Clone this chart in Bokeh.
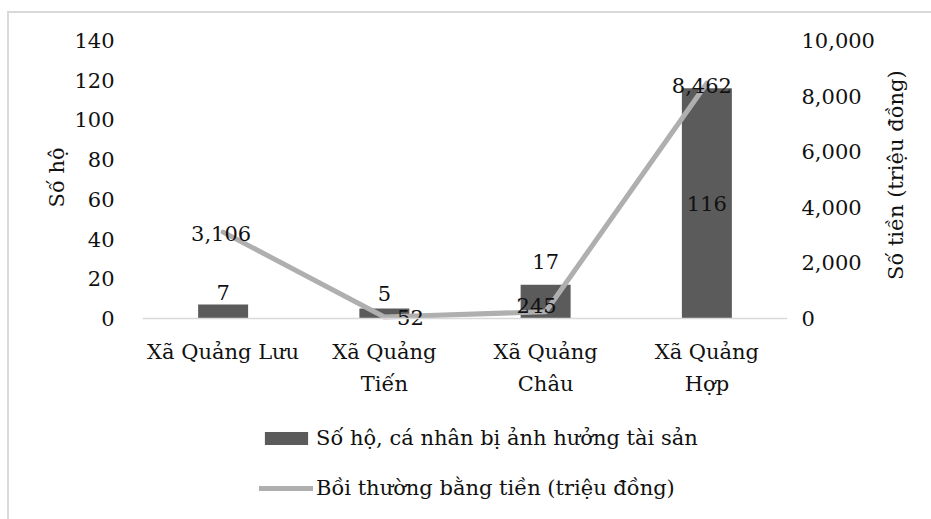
import math
from bokeh.plotting import figure
from bokeh.models import (ColumnDataSource, Range1d, LinearAxis, FactorRange, Span, Title,
                          Legend, LegendItem, NumeralTickFormatter, FixedTicker)
from bokeh.core.properties import value
from bokeh.embed import file_html
from bokeh.resources import INLINE

# ---- data ----
communes = ["Xã Quảng Lưu", "Xã Quảng\nTiến", "Xã Quảng\nChâu", "Xã Quảng\nHợp"]
households = [7, 5, 17, 116]
compensation = [3106, 52, 245, 8462]
left_ticks = [0, 20, 40, 60, 80, 100, 120, 140]
right_ticks = [0, 2000, 4000, 6000, 8000, 10000]
bar_series_name = "Số hộ, cá nhân bị ảnh hưởng tài sản"
line_series_name = "Bồi thường bằng tiền (triệu đồng)"
left_title = "Số hộ"
right_title = "Số tiền (triệu đồng)"

FONT = "DejaVu Serif"
FS = "21px"
TXT = "#111111"
BAR_COLOR = "#5B5B5B"
LINE_COLOR = "#AFAFAF"
AXIS_COLOR = "#D9D9D9"

# frame: value axis occupies the top part, category labels and legend live below the 0 line
TOP_BORDER, BOTTOM_BORDER, CANVAS_H = 27, 2, 508
frame_h = CANVAS_H - TOP_BORDER - BOTTOM_BORDER
axis_px = 278  # pixels between 0 and the top tick
lmax, rmax = left_ticks[-1], right_ticks[-1]
below_frac = (frame_h - axis_px) / axis_px

p = figure(x_range=FactorRange(*communes, range_padding=0),
           y_range=Range1d(-below_frac * lmax, lmax),
           width=924, height=CANVAS_H, output_backend="svg", toolbar_location=None,
           x_axis_location=None,
           min_border_left=133, min_border_right=146, min_border_top=TOP_BORDER,
           min_border_bottom=BOTTOM_BORDER,
           outline_line_color=None, background_fill_color="white", border_fill_color="white",
           margin=(11, 0, 0, 7),
           styles={"border-top": "2px solid #D9D9D9", "border-left": "2px solid #D9D9D9"})
p.xgrid.visible = False
p.ygrid.visible = False
p.extra_y_ranges = {"money": Range1d(-below_frac * rmax, rmax)}

src = ColumnDataSource(dict(
    x=communes, h=households, c=compensation,
    h_lab=[str(v) for v in households],
    c_lab=[f"{v:,}" for v in compensation],
    h_lab_y=[v if v < 100 else v / 2 for v in households],
    h_dy=[-12, -15, -23, 0],
    c_dx=[-2, 26, -9, -5],
    c_dy=[1, 0, -6, 2],
    zero=[0] * len(communes),
))

bars = p.vbar(x="x", top="h", width=0.31, source=src, fill_color=BAR_COLOR, line_color=None)
# category axis line
p.add_layout(Span(location=0, dimension="width", line_color=AXIS_COLOR, line_width=1.5))
line = p.line(x="x", y="c", source=src, y_range_name="money", line_color=LINE_COLOR,
              line_width=5, line_cap="round", line_join="round")

# data labels
p.text(x="x", y="h_lab_y", text="h_lab", y_offset="h_dy", source=src,
       text_align="center", text_baseline="middle", text_font=value(FONT),
       text_font_size=FS, text_color=TXT)
p.text(x="x", y="c", text="c_lab", x_offset="c_dx", y_offset="c_dy",
       y_range_name="money", source=src,
       text_align="center", text_baseline="middle", text_font=value(FONT),
       text_font_size=FS, text_color=TXT)
# category labels
p.text(x="x", y="zero", text="x", y_offset=21, source=src,
       text_align="center", text_baseline="top", text_font=value(FONT),
       text_font_size=FS, text_color=TXT, text_line_height=1.35)

# value axes
ya = p.yaxis[0]
ya.ticker = FixedTicker(ticks=left_ticks)
ya.axis_line_color = None
ya.major_tick_line_color = None
ya.minor_tick_line_color = None
ya.major_label_standoff = 22
ya.major_label_text_font = FONT
ya.major_label_text_font_size = FS
ya.major_label_text_color = TXT

p.add_layout(Title(text=left_title, align="left", offset=312, standoff=6,
                   text_font=FONT, text_font_size=FS, text_font_style="normal",
                   text_color=TXT), "left")

ra = LinearAxis(y_range_name="money", ticker=FixedTicker(ticks=right_ticks),
                formatter=NumeralTickFormatter(format="0,0"))
ra.axis_line_color = None
ra.major_tick_line_color = None
ra.minor_tick_line_color = None
ra.major_label_standoff = 8
ra.major_label_text_font = FONT
ra.major_label_text_font_size = FS
ra.major_label_text_color = TXT
ra.axis_label = right_title
ra.axis_label_text_font = FONT
ra.axis_label_text_font_size = FS
ra.axis_label_text_font_style = "normal"
ra.axis_label_text_color = TXT
ra.axis_label_standoff = 18
ra.axis_label_orientation = math.pi / 2
p.add_layout(ra, "right")

legend = Legend(items=[LegendItem(label=bar_series_name, renderers=[bars]),
                       LegendItem(label=line_series_name, renderers=[line])],
                location=(117, 19), orientation="vertical",
                padding=0, margin=0, spacing=26, glyph_width=54, glyph_height=16,
                label_height=16, label_standoff=3,
                label_text_font=FONT, label_text_font_size=FS, label_text_color=TXT,
                border_line_color=None, background_fill_alpha=0)
p.add_layout(legend)

open("out.html", "w").write(file_html(p, INLINE))
